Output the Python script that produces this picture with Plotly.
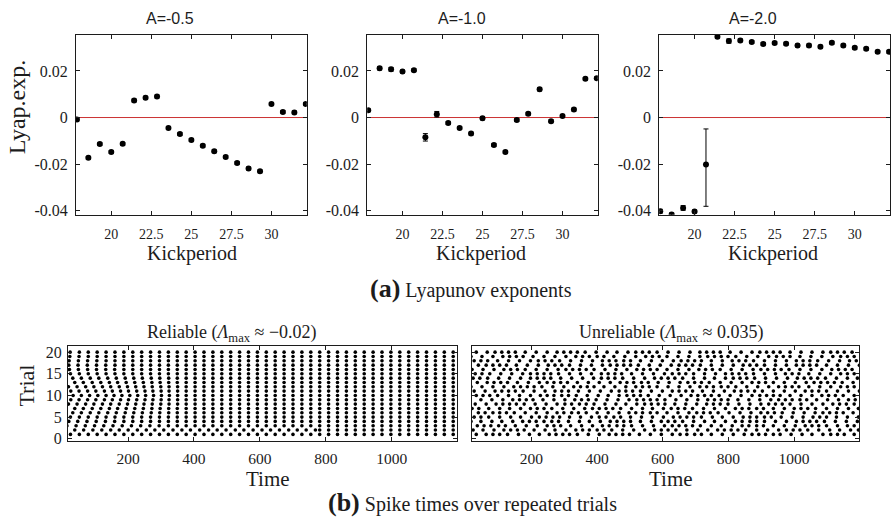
import plotly.graph_objects as go

# ---------------- (a) Lyapunov exponents vs. kick period ----------------
kick_period = [17.857, 18.571, 19.286, 20.0, 20.714, 21.429, 22.143, 22.857, 23.571,
               24.286, 25.0, 25.714, 26.429, 27.143, 27.857, 28.571, 29.286, 30.0,
               30.714, 31.429, 32.143]

lyap_a05 = [-0.0008, -0.0173, -0.0114, -0.0148, -0.0113, 0.0073, 0.0085, 0.0090, -0.0045,
            -0.0071, -0.0096, -0.0121, -0.0145, -0.0169, -0.0195, -0.0219, -0.0231, 0.0058,
            0.0024, 0.0022, 0.0058]
err_a05 = [0.0006, 0.0006, 0.0006, 0.0006, 0.0006, 0.0006, 0.0006, 0.0006, 0.0006, 0.0006,
           0.0006, 0.0006, 0.0006, 0.0006, 0.0006, 0.0006, 0.0006, 0.0006, 0.0006, 0.0006,
           0.0006]

lyap_a10 = [0.0031, 0.0211, 0.0207, 0.0197, 0.0203, -0.0085, 0.0014, -0.0024, -0.0045,
            -0.0069, -0.0003, -0.0118, -0.0148, -0.0011, 0.0016, 0.0121, -0.0016, 0.0007,
            0.0034, 0.0166, 0.0169]
err_a10 = [0.0006, 0.0007, 0.0008, 0.0006, 0.0006, 0.0016, 0.0012, 0.0006, 0.0006, 0.0006,
           0.0007, 0.0006, 0.0006, 0.0006, 0.0006, 0.0007, 0.0006, 0.0006, 0.0006, 0.0006,
           0.0006]

lyap_a20 = [-0.0402, -0.0416, -0.0388, -0.0403, -0.0202, 0.0347, 0.0328, 0.0331, 0.0324,
            0.0316, 0.0320, 0.0317, 0.0309, 0.0309, 0.0304, 0.0321, 0.0309, 0.0299,
            0.0295, 0.0282, 0.0282]
err_a20_up = [0.0008, 0.0006, 0.0010, 0.0006, 0.0153, 0.0006, 0.0009, 0.0006, 0.0006, 0.0006,
              0.0006, 0.0006, 0.0006, 0.0006, 0.0006, 0.0006, 0.0006, 0.0006, 0.0006, 0.0006,
              0.0006]
err_a20_down = [0.0008, 0.0006, 0.0010, 0.0006, 0.0179, 0.0006, 0.0009, 0.0006, 0.0006, 0.0006,
                0.0006, 0.0006, 0.0006, 0.0006, 0.0006, 0.0006, 0.0006, 0.0006, 0.0006, 0.0006,
                0.0006]

panel_titles = ["A=-0.5", "A=-1.0", "A=-2.0"]
kick_ticks = [20, 22.5, 25, 27.5, 30]
kick_ticktext = ["20", "22.5", "25", "27.5", "30"]
lyap_ticks = [-0.04, -0.02, 0, 0.02]
lyap_ticktext = ["-0.04", "-0.02", "0", "0.02"]

# ---------------- (b) spike rasters over repeated trials ----------------
trials = list(range(1, 21))
# spike times of the common (locked) firing pattern
column_times = [-1.5, 25.5, 52.5, 79.5, 106.5, 133.5, 160.5, 187.5, 214.5, 241.5, 268.5,
                295.5, 322.5, 349.5, 376.5, 403.5, 430.5, 457.5, 484.5, 511.5, 538.5, 565.5,
                592.5, 619.5, 646.5, 673.5, 700.5, 727.5, 754.5, 781.5, 808.5, 835.5, 862.5,
                889.5, 916.5, 943.5, 970.5, 997.5, 1024.5, 1051.5, 1078.5, 1105.5, 1132.5,
                1159.5, 1186.5]

# reliable case: per-trial lag (time units) before each trial locks onto the pattern
reliable_lag = [
    [],
    [12, 13, 13, 14, 14, 14, 13, 13, 14, 14, 13, 13, 14, 14, 13, 14, 14, 13, 13, 14, 13, 14,
     14, 13, 13, 14, 13, 13, 14],
    [-12, -11, -10, -9, -8, -7, -6, -5, -4, -3, -2, -1],
    [-6, -5, -5, -4, -3, -2, -1],
    [],
    [7, 7, 6, 6, 5, 5, 4, 4, 3, 2, 2, 1, 1],
    [14, 13, 12, 12, 11, 10, 8, 7, 6, 5, 4, 2, 1],
    [21, 20, 19, 17, 16, 14, 13, 11, 9, 7, 5, 4, 2, 1],
    [28, 26, 25, 23, 22, 19, 17, 14, 12, 10, 7, 5, 2, 1],
    [35, 33, 31, 29, 27, 24, 21, 18, 15, 12, 9, 6, 3, 1],
    [28, 26, 25, 23, 22, 19, 17, 14, 12, 10, 7, 5, 2, 1],
    [21, 20, 19, 17, 16, 14, 13, 11, 9, 7, 5, 4, 2, 1],
    [14, 13, 12, 12, 11, 10, 8, 7, 6, 5, 4, 2, 1],
    [7, 7, 6, 6, 5, 5, 4, 4, 3, 2, 2, 1, 1],
    [],
    [-4, -3, -3, -2, -2, -1, -1],
    [-6, -5, -4, -3, -2, -1],
    [-5, -4, -3, -2, -1],
    [-3, -2, -1],
    [-2, -1],
]

# unreliable case: per-trial jitter of every spike, in steps of SHIFT_STEP
SHIFT_STEP = 3.2
unreliable_shift = [
    [1, 2, 3, 1, -1, -2, 0, 2, 3, 4, 2, 0, -2, -3, -1, 1, 2, 0, -2, -4, -3, -1, 1, 3, 2, 0, -1, -3, -2, 0, 2, 4, 3, 1, -1, -2, -4, -2, 0, 1, 3, 2, 0, -2, -1],
    [-2, -1, 0, 2, 3, 1, -1, -3, -2, 0, 1, 3, 4, 2, 0, -1, -3, -4, -2, 0, 2, 3, 1, -1, -2, 0, 2, 3, 4, 2, 0, -2, -3, -1, 1, 3, 2, 0, -2, -3, -1, 1, 2, 4, 3],
    [4, 3, 1, -1, -2, -4, -3, -1, 1, 2, 0, -2, -1, 1, 3, 4, 2, 1, -1, -2, 0, 2, 4, 3, 1, -1, -3, -4, -2, -1, 1, 2, 0, -1, -3, -2, 0, 2, 3, 1, -1, -2, 0, 1, -1],
    [-4, -3, -2, 0, 1, 3, 4, 2, 0, -1, -2, -4, -3, -1, 0, 2, 3, 1, -1, -3, -2, 0, 1, -1, -3, -4, -2, 0, 1, 3, 4, 2, 1, -1, -2, 0, 2, 3, 1, -1, -3, -4, -2, 0, 2],
    [1, 0, -2, -3, -1, 1, 2, 4, 3, 1, -1, -3, -2, 0, 2, 1, -1, -2, -4, -3, -1, 1, 3, 4, 2, 0, -2, -3, -1, 0, 2, 3, 1, -1, -2, -4, -3, -1, 1, 2, 0, -2, -1, 1, 3],
    [3, 4, 2, 1, -1, -3, -4, -2, 0, 2, 3, 1, 0, -2, -3, -1, 1, 3, 4, 2, 0, -1, -3, -2, 0, 2, 1, -1, -3, -4, -2, 0, 2, 3, 1, -1, -2, 0, 2, 4, 3, 1, -1, -3, -2],
    [-1, -2, -4, -3, -1, 0, 2, 3, 1, -1, -2, 0, 2, 4, 3, 1, -1, -3, -4, -2, 0, 1, 3, 2, 0, -2, -3, -1, 1, 3, 4, 2, 0, -1, -3, -2, 0, 1, -1, -3, -4, -2, 0, 2, 3],
    [0, 1, 3, 4, 2, 0, -2, -3, -1, 1, 3, 2, 0, -1, -3, -4, -2, 0, 1, 3, 2, 0, -2, -4, -3, -1, 1, 2, 0, -2, -3, -1, 1, 3, 2, 0, -2, -3, -1, 1, 3, 4, 2, 0, -1],
    [-3, -4, -2, 0, 2, 3, 1, -1, -3, -2, 0, 2, 3, 1, -1, -2, 0, 2, 4, 3, 1, -1, -3, -4, -2, 0, 2, 3, 1, -1, -3, -2, 0, 2, 4, 3, 1, -1, -2, -4, -3, -1, 1, 2, 0],
    [3, 2, 0, -2, -3, -1, 1, 3, 4, 2, 0, -1, -3, -4, -2, 0, 1, 3, 2, 0, -2, -3, -1, 1, 3, 4, 2, 0, -2, -3, -1, 1, 3, 2, 0, -2, -4, -3, -1, 1, 2, 0, -2, -3, -1],
    [-1, 0, 2, 3, 1, -1, -3, -4, -2, 0, 1, -1, -3, -2, 0, 2, 4, 3, 1, -1, -2, 0, 2, 3, 1, -1, -3, -2, 0, 2, 3, 1, -1, -3, -4, -2, 0, 2, 3, 1, -1, -2, 0, 2, 4],
    [-4, -3, -1, 1, 3, 4, 2, 0, -2, -3, -1, 1, 2, 0, -2, -4, -3, -1, 1, 2, 0, -2, -3, -1, 1, 3, 4, 2, 0, -1, -3, -4, -2, 0, 2, 3, 1, -1, -3, -2, 0, 2, 3, 1, -1],
    [2, 3, 4, 2, 0, -2, -1, 1, 3, 2, 0, -2, -4, -3, -1, 1, 3, 4, 2, 0, -1, -3, -2, 0, 2, 1, -1, -3, -4, -2, 0, 2, 3, 1, -1, -2, 0, 2, 4, 3, 1, -1, -3, -4, -2],
    [0, -1, -3, -4, -2, 0, 2, 3, 1, -1, -3, -2, 0, 2, 4, 3, 1, -1, -2, 0, 2, 3, 1, -1, -3, -4, -2, 0, 1, 3, 2, 0, -2, -3, -1, 1, 3, 4, 2, 0, -2, -3, -1, 1, 2],
    [2, 1, -1, -2, 0, 2, 4, 3, 1, -1, -3, -4, -2, 0, 2, 3, 1, -1, -3, -2, 0, 2, 4, 3, 1, -1, -2, 0, 2, 3, 1, -1, -3, -4, -2, 0, 1, -1, -3, -2, 0, 2, 3, 1, -1],
    [-3, -2, 0, 2, 3, 1, -1, -2, 0, 2, 4, 3, 1, -1, -3, -4, -2, 0, 2, 3, 1, -1, -3, -2, 0, 2, 3, 1, -1, -2, 0, 2, 4, 3, 1, -1, -3, -4, -2, 0, 2, 3, 1, -1, -3],
    [3, 4, 3, 1, -1, -3, -2, 0, 2, 3, 1, -1, -2, 0, 2, 4, 3, 1, -1, -3, -4, -2, 0, 2, 1, -1, -3, -4, -2, 0, 2, 3, 1, -1, -2, 0, 2, 3, 1, -1, -3, -2, 0, 2, 4],
    [1, 0, -2, -4, -3, -1, 1, 3, 2, 0, -2, -3, -1, 1, 3, 4, 2, 0, -1, -3, -2, 0, 2, 4, 3, 1, -1, -3, -2, 0, 1, -1, -3, -4, -2, 0, 2, 3, 1, -1, -2, 0, 2, 3, 1],
    [-4, -3, -1, 1, 2, 0, -2, -4, -3, -1, 1, 3, 4, 2, 0, -1, -3, -2, 0, 2, 3, 1, -1, -2, 0, 2, 4, 3, 1, -1, -3, -4, -2, 0, 2, 1, -1, -3, -2, 0, 2, 4, 3, 1, -1],
    [1, 2, 4, 3, 1, -1, -3, -2, 0, 2, 3, 1, -1, -3, -4, -2, 0, 1, 3, 2, 0, -2, -3, -1, 1, 3, 4, 2, 0, -2, -1, 1, 3, 2, 0, -2, -4, -3, -1, 1, 3, 2, 0, -2, -3],
]

time_ticks = [200, 400, 600, 800, 1000]
trial_ticks = [0, 5, 10, 15, 20]


def raster_points(shift_lists, unit):
    xs, ys = [], []
    for trial, shifts in zip(trials, shift_lists):
        for i, t in enumerate(column_times):
            lag = shifts[i] * unit if i < len(shifts) else 0.0
            xs.append(t + lag)
            ys.append(trial)
    return xs, ys


SERIF = "Liberation Serif, Times New Roman, serif"
SANS = "Liberation Sans, Arial, sans-serif"
INK = "#1c1c1c"
W, H = 891, 524


def px(x):
    return x / W


def py(y):
    return 1 - y / H


fig = go.Figure()

frame = dict(showline=True, linecolor=INK, linewidth=1, mirror="ticks", ticks="inside",
             ticklen=4, tickcolor=INK, tickwidth=1, showgrid=False, zeroline=False)

upper_x_domains = [(76, 306.7), (367.3, 597.7), (659.3, 890)]
upper_series = [
    (lyap_a05, err_a05, err_a05),
    (lyap_a10, err_a10, err_a10),
    (lyap_a20, err_a20_up, err_a20_down),
]
title_centers = [170, 461.7, 753.3]
label_centers = [192, 481, 773]

for k, ((x0, x1), (vals, eup, edn)) in enumerate(zip(upper_x_domains, upper_series)):
    n = "" if k == 0 else str(k + 1)
    fig.add_trace(go.Scatter(
        x=kick_period, y=vals, xaxis="x" + n, yaxis="y" + n, mode="markers",
        marker=dict(color="black", size=6, symbol="circle"),
        error_y=dict(type="data", symmetric=False, array=eup, arrayminus=edn,
                     color="black", thickness=1, width=2.5),
        showlegend=False, hoverinfo="skip", cliponaxis=True))
    fig.layout["xaxis" + n] = dict(
        frame, domain=[px(x0), px(x1)], anchor="y" + n, range=[17.8, 32.2],
        tickvals=kick_ticks, ticktext=kick_ticktext, ticklabelstandoff=6,
        tickfont=dict(family=SERIF, size=14, color=INK))
    fig.layout["yaxis" + n] = dict(
        frame, domain=[py(216), py(33.3)], anchor="x" + n, range=[-0.0417, 0.0355],
        tickvals=lyap_ticks, ticktext=lyap_ticktext, ticklabelstandoff=4,
        tickfont=dict(family=SERIF, size=16, color=INK))
    fig.add_shape(type="line", xref="x%s domain" % n, yref="y" + n, x0=0, x1=1, y0=0, y1=0,
                  line=dict(color="#cc3333", width=1), layer="below")
    fig.add_annotation(text=panel_titles[k], xref="paper", yref="paper",
                       x=px(title_centers[k]), y=py(16.5), showarrow=False,
                       xanchor="center", yanchor="middle",
                       font=dict(family=SANS, size=16, color=INK))
    fig.add_annotation(text="Kickperiod", xref="paper", yref="paper",
                       x=px(label_centers[k]), y=py(255), showarrow=False,
                       xanchor="center", yanchor="middle",
                       font=dict(family=SERIF, size=20, color=INK))

fig.add_annotation(text="Lyap.exp.", xref="paper", yref="paper", x=px(17), y=py(107),
                   textangle=-90, showarrow=False, xanchor="center", yanchor="middle",
                   font=dict(family=SERIF, size=24, color=INK))

# ---------------- rasters ----------------
raster_panels = [
    (4, (68, 457), reliable_lag, 1.0, "Reliable (<i>Λ</i><sub>max</sub> ≈ −0.02)", 231.7, 267.5),
    (5, (471.7, 859), unreliable_shift, SHIFT_STEP,
     "Unreliable (<i>Λ</i><sub>max</sub> ≈ 0.035)", 670.8, 670.8),
]
for n, (x0, x1), shifts, unit, title, tcx, lcx in raster_panels:
    xs, ys = raster_points(shifts, unit)
    fig.add_trace(go.Scatter(
        x=xs, y=ys, xaxis="x%d" % n, yaxis="y%d" % n, mode="markers",
        marker=dict(color="black", size=3.6, line=dict(width=0)),
        showlegend=False, hoverinfo="skip", cliponaxis=True))
    fig.layout["xaxis%d" % n] = dict(
        frame, domain=[px(x0), px(x1)], anchor="y%d" % n, range=[18, 1198],
        tickvals=time_ticks, ticklabelstandoff=4,
        tickfont=dict(family=SERIF, size=15.5, color=INK))
    fig.layout["yaxis%d" % n] = dict(
        frame, domain=[py(445.7), py(349)], anchor="x%d" % n, range=[-0.5, 21.5],
        tickvals=trial_ticks, showticklabels=(n == 4), ticklabelstandoff=2,
        tickfont=dict(family=SERIF, size=16, color=INK))
    fig.add_annotation(text=title, xref="paper", yref="paper", x=px(tcx), y=py(337),
                       showarrow=False, xanchor="center", yanchor="middle",
                       font=dict(family=SERIF, size=18, color=INK))
    fig.add_annotation(text="Time", xref="paper", yref="paper", x=px(lcx), y=py(484.5),
                       showarrow=False, xanchor="center", yanchor="middle",
                       font=dict(family=SERIF, size=21, color=INK))

fig.add_annotation(text="Trial", xref="paper", yref="paper", x=px(26.5), y=py(390),
                   textangle=-90, showarrow=False, xanchor="center", yanchor="middle",
                   font=dict(family=SERIF, size=22, color=INK))

# ---------------- captions ----------------
fig.add_annotation(text="<b><span style='font-size:26px'>(a)</span></b> Lyapunov exponents",
                   xref="paper", yref="paper", x=px(471), y=py(291), showarrow=False,
                   xanchor="center", yanchor="middle",
                   font=dict(family=SERIF, size=20, color=INK))
fig.add_annotation(text="<b><span style='font-size:26px'>(b)</span></b> Spike times over repeated trials",
                   xref="paper", yref="paper", x=px(472), y=py(508), showarrow=False,
                   xanchor="center", yanchor="middle",
                   font=dict(family=SERIF, size=20, color=INK))

fig.update_layout(width=W, height=H, autosize=False,
                  margin=dict(l=0, r=0, t=0, b=0, pad=0),
                  paper_bgcolor="white", plot_bgcolor="white")

fig.write_html("out.html")
